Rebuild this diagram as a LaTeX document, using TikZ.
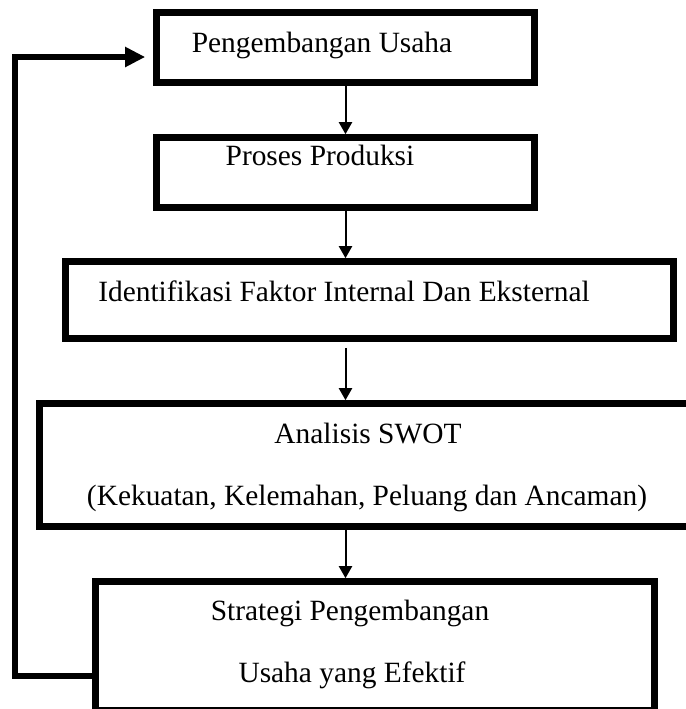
\documentclass[tikz,border=0pt]{standalone}
\usepackage{fontspec}
\setmainfont[Ligatures=NoCommon]{Liberation Serif}
\usetikzlibrary{arrows.meta}

\begin{document}
\begin{tikzpicture}[x=0.5pt,y=-0.5pt,
		kotak/.style={draw, line width=3.3pt, inner sep=0pt},
		teks/.style={anchor=base, inner sep=0pt, font=\fontsize{14.7}{17}\selectfont},
		panah/.style={line width=1pt, -{Triangle[length=6pt,width=6.5pt]}},
		balik/.style={line width=3pt, -{Triangle[length=10pt,width=9.5pt]}, shorten >=4pt}]
		\useasboundingbox (0,0) rectangle (686,709);
		\clip (0,0) rectangle (686,709);

		\node[kotak, minimum width=189pt, minimum height=35pt] (usaha) at (345.5,47.5) {};
		\node[kotak, minimum width=189pt, minimum height=35pt] (produksi) at (345.5,172.5) {};
		\node[kotak, minimum width=304pt, minimum height=38.5pt] (identifikasi) at (369.5,300) {};
		\node[kotak, minimum width=340pt, minimum height=61.5pt] (swot) at (379.75,465) {};
		\node[kotak, minimum width=279.5pt, minimum height=64.5pt] (strategi) at (375,646) {};

		\node[teks] (tUsaha) at (322,52) {Pengembangan Usaha};
		\node[teks] (tProduksi) at (320,165) {Proses Produksi};
		\node[teks] (tIdentifikasi) at (344,301) {Identifikasi Faktor Internal Dan Eksternal};
		\node[teks] (tSwot) at (368,443) {Analisis SWOT};
		\node[teks] (tSwotIsi) at (367,505) {(Kekuatan, Kelemahan, Peluang dan Ancaman)};
		\node[teks] (tStrategi) at (350,620) {Strategi Pengembangan};
		\node[teks] (tEfektif) at (352,682) {Usaha yang Efektif};

		\draw[panah] (usaha.south) -- (produksi.north);
		\draw[panah] (produksi.south) -- (produksi.south |- identifikasi.north);
		\draw[panah] ([yshift=-3pt]produksi.south |- identifikasi.south) -- (produksi.south |- swot.north);
		\draw[panah] (produksi.south |- swot.south) -- (produksi.south |- strategi.north);

		% umpan balik
		\coordinate (kiri) at (15,300);
		\draw[balik] ([yshift=-15pt]strategi.west) -| (kiri) |- ([yshift=-4.75pt]usaha.west);
	\end{tikzpicture}
\end{document}
